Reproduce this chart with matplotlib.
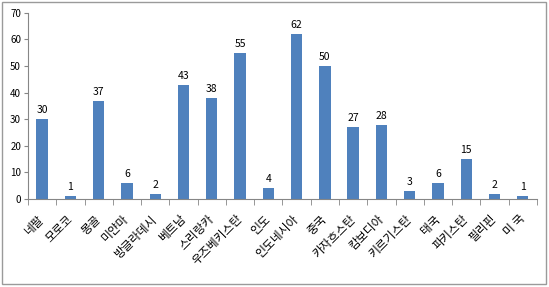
import matplotlib
matplotlib.use("Agg")
import matplotlib.pyplot as plt
from matplotlib.patches import Rectangle
import numpy as np

plt.rcParams['font.family'] = ['Noto Sans CJK KR', 'DejaVu Sans']

countries = ['네팔', '모로코', '몽골', '미얀마', '방글라데시', '베트남', '스리랑카',
             '우즈베키스탄', '인도', '인도네시아', '중국', '카자흐스탄', '캄보디아',
             '키르기스탄', '태국', '파키스탄', '필리핀', '미 국']
counts = [30, 1, 37, 6, 2, 43, 38, 55, 4, 62, 50, 27, 28, 3, 6, 15, 2, 1]

fig = plt.figure(figsize=(5.49, 2.87), dpi=100)
ax = fig.add_axes([0.051, 0.307, 0.927, 0.648])

x = np.arange(len(countries))
bars = ax.bar(x, counts, width=0.4, color='#4F81BD')
for b, v in zip(bars, counts):
    ax.text(b.get_x() + b.get_width() / 2, v + 1.5, str(v),
            ha='center', va='bottom', fontsize=7.5, color='black')

ax.set_xlim(-0.5, len(countries) - 0.5)
ax.set_ylim(0, 70)
ax.set_yticks(range(0, 71, 10))
ax.tick_params(axis='y', labelsize=7, length=3, color='#868686', pad=2)

ax.set_xticks(x)
ax.set_xticklabels(countries, rotation=45, ha='right', va='center',
                   rotation_mode='anchor', fontsize=8.5)
ax.tick_params(axis='x', length=0, pad=13)
ax.set_xticks(np.arange(-0.5, len(countries)), minor=True)
ax.tick_params(axis='x', which='minor', length=4, color='#868686')

for s in ['top', 'right']:
    ax.spines[s].set_visible(False)
for s in ['left', 'bottom']:
    ax.spines[s].set_color('#868686')
    ax.spines[s].set_linewidth(0.8)

fig.patches.append(Rectangle((0.004, 0.01), 0.991, 0.982, transform=fig.transFigure,
                             fill=False, edgecolor='#9A9A9A', linewidth=1))

fig.savefig('out.png', dpi=100)
